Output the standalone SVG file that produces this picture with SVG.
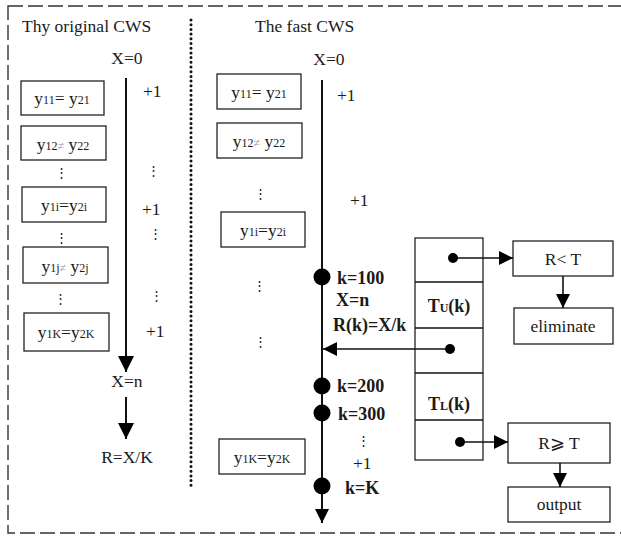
<svg xmlns="http://www.w3.org/2000/svg" width="621" height="538" viewBox="0 0 621 538">
<style>
text{font-family:"Liberation Serif","Times New Roman",serif;fill:#1a1a1a;font-size:17.5px}
.b{font-weight:bold;font-size:18px}
.s{font-size:12px}
.ne{font-size:12px;fill:#999}
.d{font-size:13px}
.box{fill:#fff;stroke:#222;stroke-width:1.3}
.ln{stroke:#111;stroke-width:2;fill:none}
.thin{stroke:#111;stroke-width:1.6;fill:none}
.m{text-anchor:middle}
</style>
<defs>
<marker id="ah" markerUnits="userSpaceOnUse" markerWidth="16" markerHeight="16" viewBox="0 0 16 16" refX="16" refY="8" orient="auto">
<path d="M0,0 L16,8 L0,16 Z" fill="#000"/>
</marker>
<marker id="ahs" markerUnits="userSpaceOnUse" markerWidth="14" markerHeight="14" viewBox="0 0 14 14" refX="14" refY="7" orient="auto">
<path d="M0,0 L14,7 L0,14 Z" fill="#000"/>
</marker>
</defs>
<rect x="8" y="6" width="620" height="527" fill="none" stroke="#333" stroke-width="1.4" stroke-dasharray="15 5"/>
<line x1="191" y1="20" x2="191" y2="489" stroke="#111" stroke-width="3" stroke-linecap="round" stroke-dasharray="0 4.7"/>

<g id="left-panel">
<text x="22" y="32">Thy original CWS</text>
<text x="127" y="64" class="m">X=0</text>
<g id="l-box1"><rect class="box" x="21" y="81" width="83" height="34"/><text x="62" y="104" class="m">y<tspan class="s">11</tspan>= y<tspan class="s">21</tspan></text></g>
<g id="l-box2"><rect class="box" x="21" y="126" width="85" height="34"/><text x="63" y="150" class="m">y<tspan class="s">12</tspan><tspan class="ne">≠</tspan> y<tspan class="s">22</tspan></text></g>
<text x="61" y="177" class="m d">⋮</text>
<g id="l-box3"><rect class="box" x="22" y="187" width="84" height="35"/><text x="64" y="211" class="m">y<tspan class="s">1i</tspan>=y<tspan class="s">2i</tspan></text></g>
<text x="61" y="242" class="m d">⋮</text>
<g id="l-box4"><rect class="box" x="23" y="247" width="85" height="36"/><text x="65" y="272" class="m">y<tspan class="s">1j</tspan><tspan class="ne">≠</tspan> y<tspan class="s">2j</tspan></text></g>
<text x="60" y="303" class="m d">⋮</text>
<g id="l-box5"><rect class="box" x="24" y="313" width="85" height="38"/><text x="66" y="338" class="m">y<tspan class="s">1K</tspan>=y<tspan class="s">2K</tspan></text></g>
<text x="143" y="97">+1</text>
<text x="153" y="175" class="m d">⋮</text>
<text x="142" y="215">+1</text>
<text x="155" y="238" class="m d">⋮</text>
<text x="156" y="300" class="m d">⋮</text>
<text x="146" y="337">+1</text>
<text x="127" y="387" class="m">X=n</text>
<text x="127" y="463" class="m">R=X/K</text>
</g>

<g id="middle-panel">
<text x="255" y="32">The fast CWS</text>
<text x="329" y="65" class="m">X=0</text>
<g id="m-box1"><rect class="box" x="217" y="74" width="84" height="35"/><text x="259" y="98" class="m">y<tspan class="s">11</tspan>= y<tspan class="s">21</tspan></text></g>
<g id="m-box2"><rect class="box" x="217" y="123" width="85" height="35"/><text x="259" y="147" class="m">y<tspan class="s">12</tspan><tspan class="ne">≠</tspan> y<tspan class="s">22</tspan></text></g>
<text x="260" y="198" class="m d">⋮</text>
<g id="m-box3"><rect class="box" x="221" y="212" width="84" height="35"/><text x="263" y="236" class="m">y<tspan class="s">1i</tspan>=y<tspan class="s">2i</tspan></text></g>
<text x="337" y="101">+1</text>
<text x="350" y="206">+1</text>
<text x="259" y="290" class="m d">⋮</text>
<text x="260" y="346" class="m d">⋮</text>
<g id="m-box4"><rect class="box" x="219" y="439" width="86" height="35"/><text x="262" y="463" class="m">y<tspan class="s">1K</tspan>=y<tspan class="s">2K</tspan></text></g>
<text x="337" y="284" class="b">k=100</text>
<text x="336" y="306" class="b">X=n</text>
<text x="333" y="331" class="b">R(k)=X/k</text>
<text x="337" y="392" class="b">k=200</text>
<text x="338" y="420" class="b">k=300</text>
<text x="363" y="445" class="m d">⋮</text>
<text x="353" y="469">+1</text>
<text x="345" y="494" class="b">k=K</text>
</g>

<g id="threshold-column">
<rect class="box" x="415" y="238" width="68" height="222"/>
<line class="thin" x1="415" y1="282" x2="483" y2="282"/>
<line class="thin" x1="415" y1="328" x2="483" y2="328"/>
<line class="thin" x1="415" y1="373" x2="483" y2="373"/>
<line class="thin" x1="415" y1="420" x2="483" y2="420"/>
<text x="449" y="312" class="m b">T<tspan class="s">U</tspan>(k)</text>
<text x="449" y="410" class="m b">T<tspan class="s">L</tspan>(k)</text>
</g>
<g id="r-lt"><rect class="box" x="513" y="241" width="100" height="35"/><text x="563" y="265" class="m">R&lt; T</text></g>
<g id="r-elim"><rect class="box" x="514" y="308" width="99" height="36"/><text x="563" y="332" class="m">eliminate</text></g>
<g id="r-ge"><rect class="box" x="508" y="423" width="102" height="40"/><text x="559" y="449" class="m">R⩾ T</text></g>
<g id="r-out"><rect class="box" x="508" y="487" width="102" height="35"/><text x="559" y="510" class="m">output</text></g>

<g id="connectors">
<line class="ln" x1="126" y1="78" x2="126" y2="372" marker-end="url(#ah)"/>
<line class="ln" x1="126" y1="397" x2="126" y2="439" marker-end="url(#ah)"/>
<line class="ln" x1="322" y1="80" x2="322" y2="523" marker-end="url(#ahs)"/>
<circle cx="322" cy="277" r="8.5" fill="#000"/>
<circle cx="322" cy="386" r="8.5" fill="#000"/>
<circle cx="322" cy="413" r="8.5" fill="#000"/>
<circle cx="322" cy="486" r="8.5" fill="#000"/>
<line class="thin" x1="450" y1="349" x2="323" y2="349" marker-end="url(#ahs)"/>
<circle cx="450" cy="349" r="5" fill="#000"/>
<line class="thin" x1="453" y1="258" x2="513" y2="258" marker-end="url(#ahs)"/>
<circle cx="453" cy="258" r="5" fill="#000"/>
<line class="thin" x1="563" y1="276" x2="563" y2="308" marker-end="url(#ahs)"/>
<line class="thin" x1="460" y1="442" x2="508" y2="442" marker-end="url(#ahs)"/>
<circle cx="460" cy="442" r="5" fill="#000"/>
<line class="thin" x1="560" y1="463" x2="560" y2="487" marker-end="url(#ahs)"/>
</g>
</svg>
